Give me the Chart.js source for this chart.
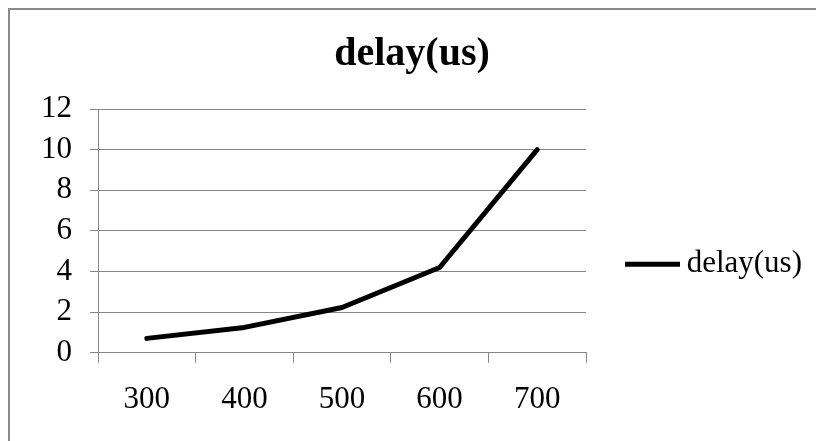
<!DOCTYPE html>
<html lang="en">
<head>
    <meta charset="UTF-8">
    <title>delay(us)</title>
    <script src="https://cdn.jsdelivr.net/npm/chart.js"></script>
    <style>
        body {
            margin: 0;
            background: #fff;
        }
        .chart-box {
            position: relative;
            width: 816px;
            height: 441px;
            overflow: hidden;
        }
        .frame {
            position: absolute;
            left: 8px;
            top: 8px;
            width: 900px;
            height: 500px;
            border-top: 2px solid #8a8a8a;
            border-left: 2px solid #8a8a8a;
        }
    </style>
</head>
<body>
    <div class="chart-box">
        <canvas id="delayChart" width="816" height="441"></canvas>
        <div class="frame"></div>
    </div>
    <script>
        // chart data
        const categories = ['300', '400', '500', '600', '700'];
        const delayValues = [0.71, 1.25, 2.23, 4.2, 10];
        const yTicks = [0, 2, 4, 6, 8, 10, 12];

        const serif = '"Times New Roman", "Liberation Serif", serif';
        const gridGrey = '#868686';

        // push the legend down a little so it sits where Excel put it
        const legendNudge = {
            id: 'legendNudge',
            afterLayout(chart) {
                if (chart.legend) {
                    chart.legend.top += 31;
                    chart.legend.bottom += 31;
                }
            }
        };

        new Chart(document.getElementById('delayChart').getContext('2d'), {
            type: 'line',
            data: {
                labels: categories,
                datasets: [{
                    label: 'delay(us)',
                    data: delayValues,
                    borderColor: '#000',
                    backgroundColor: '#000',
                    borderWidth: 5,
                    borderCapStyle: 'round',
                    borderJoinStyle: 'round',
                    pointRadius: 0,
                    pointStyle: 'line',
                    tension: 0,
                    fill: false
                }]
            },
            options: {
                responsive: false,
                animation: false,
                layout: {
                    padding: { left: 22, right: 14, top: 30.5, bottom: 5 }
                },
                plugins: {
                    title: {
                        display: true,
                        text: 'delay(us)',
                        color: '#000',
                        font: { family: serif, size: 40, weight: 'bold' },
                        padding: { top: 0, bottom: 30.5 }
                    },
                    legend: {
                        position: 'right',
                        maxWidth: 216,
                        labels: {
                            color: '#000',
                            font: { family: serif, size: 31 },
                            usePointStyle: true,
                            pointStyleWidth: 55,
                            boxHeight: 5,
                            padding: 39,
                            textAlign: 'right'
                        }
                    },
                    tooltip: { enabled: false }
                },
                scales: {
                    x: {
                        offset: true,
                        grid: {
                            offset: true,
                            drawOnChartArea: false,
                            color: gridGrey,
                            tickLength: 10
                        },
                        border: { color: gridGrey, width: 1 },
                        ticks: {
                            color: '#000',
                            font: { family: serif, size: 31 },
                            padding: 18,
                            maxRotation: 0
                        }
                    },
                    y: {
                        min: 0,
                        max: 12,
                        afterFit(scale) {
                            scale.width = 76;
                        },
                        afterBuildTicks(scale) {
                            scale.ticks = yTicks.map(v => ({ value: v }));
                        },
                        grid: {
                            color: gridGrey,
                            tickLength: 8
                        },
                        border: { color: gridGrey, width: 1 },
                        ticks: {
                            color: '#000',
                            font: { family: serif, size: 31 },
                            padding: 18
                        }
                    }
                }
            },
            plugins: [legendNudge]
        });
    </script>
</body>
</html>
